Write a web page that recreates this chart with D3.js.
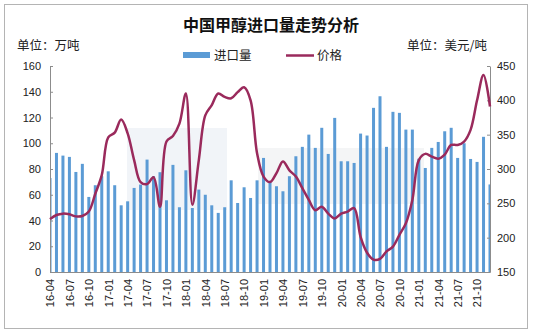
<!DOCTYPE html>
<html>
<head>
<meta charset="utf-8">
<script src="https://cdn.jsdelivr.net/npm/d3@7/dist/d3.min.js"></script>
<style>
  html, body { margin: 0; padding: 0; background: #fff; }
  svg { display: block; }
  text { font-family: "Liberation Sans", Arial, "Noto Sans CJK SC", sans-serif; }
  .cjk { font-family: "Noto Sans CJK SC", sans-serif; }
</style>
</head>
<body>
<svg id="chart" width="540" height="336"></svg>
<script>
const months = [
  "16-04","16-05","16-06","16-07","16-08","16-09","16-10","16-11","16-12",
  "17-01","17-02","17-03","17-04","17-05","17-06","17-07","17-08","17-09","17-10","17-11","17-12",
  "18-01","18-02","18-03","18-04","18-05","18-06","18-07","18-08","18-09","18-10","18-11","18-12",
  "19-01","19-02","19-03","19-04","19-05","19-06","19-07","19-08","19-09","19-10","19-11","19-12",
  "20-01","20-02","20-03","20-04","20-05","20-06","20-07","20-08","20-09","20-10","20-11","20-12",
  "21-01","21-02","21-03","21-04","21-05","21-06","21-07","21-08","21-09","21-10","21-11","21-12"
];
const imports = [
  73, 92.5, 90.4, 89.4, 77.7, 84, 58.3, 67.4, 74.4,
  78.2, 67.4, 51.8, 54.9, 65.3, 67.9, 87.3, 74.4, 77.5, 55.7, 83.2, 50.3,
  79, 49.7, 64, 60, 51.8, 45.9, 50.3, 71.2, 53.6, 65.8, 57.5, 71.2,
  88.6, 70.5, 66.6, 62.7, 74.4, 89.9, 97.2, 106.7, 96.4, 112, 91.7, 119.7,
  86, 86, 84.7, 107.5, 106, 127.5, 136.5, 97.2, 124.4, 123.6, 110.6, 110.6,
  88, 80.8, 96.4, 101, 109.3, 112, 88.6, 100, 87.8, 85.5, 105, 68
];
const prices = [
  227, 233, 235, 234, 231, 231.5, 238, 264, 291,
  346, 353, 372, 352, 313, 281, 278, 288, 245, 340, 348, 366,
  410, 248, 313, 378, 393, 410, 405, 403, 412, 419, 400, 323,
  289, 281, 294, 311, 298, 289, 272, 255, 240, 245, 235, 228,
  235, 238, 243, 201, 178, 168, 169, 180, 187, 204, 221, 255,
  313, 322, 318, 315, 321, 335, 335, 340, 357, 400, 437, 391
];
const xTickLabels = ["16-04","16-07","16-10","17-01","17-04","17-07","17-10","18-01","18-04","18-07","18-10",
  "19-01","19-04","19-07","19-10","20-01","20-04","20-07","20-10","21-01","21-04","21-07","21-10"];
const leftTicks = [0, 20, 40, 60, 80, 100, 120, 140, 160];
const rightTicks = [150, 200, 250, 300, 350, 400, 450];

const svg = d3.select("#chart");
const L = 50, R = 490, T = 66, B = 272;

const x = d3.scalePoint().domain(months).range([L, R]);
const yL = d3.scaleLinear().domain([0, 160]).range([B, T]);
const yR = d3.scaleLinear().domain([150, 450]).range([B, T]);

// outer frame
svg.append("rect").attr("x", 4.5).attr("y", 4.5).attr("width", 523).attr("height", 324)
  .attr("fill", "#fff").attr("stroke", "#b4b4b4").attr("stroke-width", 1);

// faint watermark panels
svg.append("rect").attr("x", 127).attr("y", 128).attr("width", 100).attr("height", 82)
  .attr("fill", "#eef1f6").attr("opacity", 0.8);
svg.append("rect").attr("x", 258).attr("y", 148).attr("width", 166).attr("height", 56)
  .attr("fill", "#f1f2f4").attr("opacity", 0.8);

// title
svg.append("text").attr("class", "cjk").attr("x", 271).attr("y", 31)
  .attr("text-anchor", "middle").attr("font-size", 16).attr("font-weight", "bold")
  .attr("fill", "#111").text("中国甲醇进口量走势分析");

svg.append("text").attr("class", "cjk").attr("x", 17).attr("y", 50)
  .attr("font-size", 12.5).attr("fill", "#222").text("单位：万吨");
svg.append("text").attr("class", "cjk").attr("x", 487).attr("y", 50)
  .attr("text-anchor", "end").attr("font-size", 12.5).attr("fill", "#222").text("单位：美元/吨");

// legend
svg.append("rect").attr("x", 183).attr("y", 52).attr("width", 27).attr("height", 6).attr("fill", "#5b9bd5");
svg.append("text").attr("class", "cjk").attr("x", 214).attr("y", 60)
  .attr("font-size", 12.5).attr("fill", "#222").text("进口量");
svg.append("line").attr("x1", 286).attr("x2", 314).attr("y1", 55.5).attr("y2", 55.5)
  .attr("stroke", "#9a2a5c").attr("stroke-width", 2.5);
svg.append("text").attr("class", "cjk").attr("x", 317).attr("y", 60)
  .attr("font-size", 12.5).attr("fill", "#222").text("价格");

// clip
svg.append("clipPath").attr("id", "plotclip").append("rect")
  .attr("x", L).attr("y", T - 10).attr("width", R - L).attr("height", B - T + 10);

// bars
const bw = 3;
svg.append("g").attr("clip-path", "url(#plotclip)")
  .selectAll("rect").data(months).join("rect")
  .attr("x", (d) => x(d) - bw / 2)
  .attr("y", (d, i) => yL(imports[i]))
  .attr("width", bw)
  .attr("height", (d, i) => B - yL(imports[i]))
  .attr("fill", "#5b9bd5");

// axes
const axisColor = "#8c8c8c";
const gl = svg.append("g").attr("transform", `translate(${L},0)`)
  .call(d3.axisLeft(yL).tickValues(leftTicks).tickSizeInner(-3).tickSizeOuter(0).tickPadding(9));
const gr = svg.append("g").attr("transform", `translate(${R},0)`)
  .call(d3.axisRight(yR).tickValues(rightTicks).tickSizeInner(-3).tickSizeOuter(0).tickPadding(7));
const gb = svg.append("g").attr("transform", `translate(0,${B})`)
  .call(d3.axisBottom(x).tickValues(xTickLabels).tickSize(0).tickPadding(0));

[gl, gr, gb].forEach(g => {
  g.selectAll("path").attr("stroke", axisColor);
  g.selectAll("line").attr("stroke", axisColor);
  g.selectAll("text").attr("font-size", 11).attr("fill", "#222")
    .attr("font-family", "'Liberation Sans', Arial, sans-serif");
});
gb.selectAll("text")
  .attr("transform", "rotate(-90)")
  .attr("text-anchor", "end")
  .attr("x", -7).attr("y", 0).attr("dy", "0.35em")
  .attr("font-size", 11);

// price line
const line = d3.line()
  .x((d, i) => x(months[i]))
  .y((d) => yR(d))
  .curve(d3.curveCatmullRom.alpha(0.5));
svg.append("path").datum(prices)
  .attr("d", line)
  .attr("fill", "none")
  .attr("stroke", "#9a2a5c")
  .attr("stroke-width", 2.5)
  .attr("stroke-linejoin", "round");
</script>
</body>
</html>
